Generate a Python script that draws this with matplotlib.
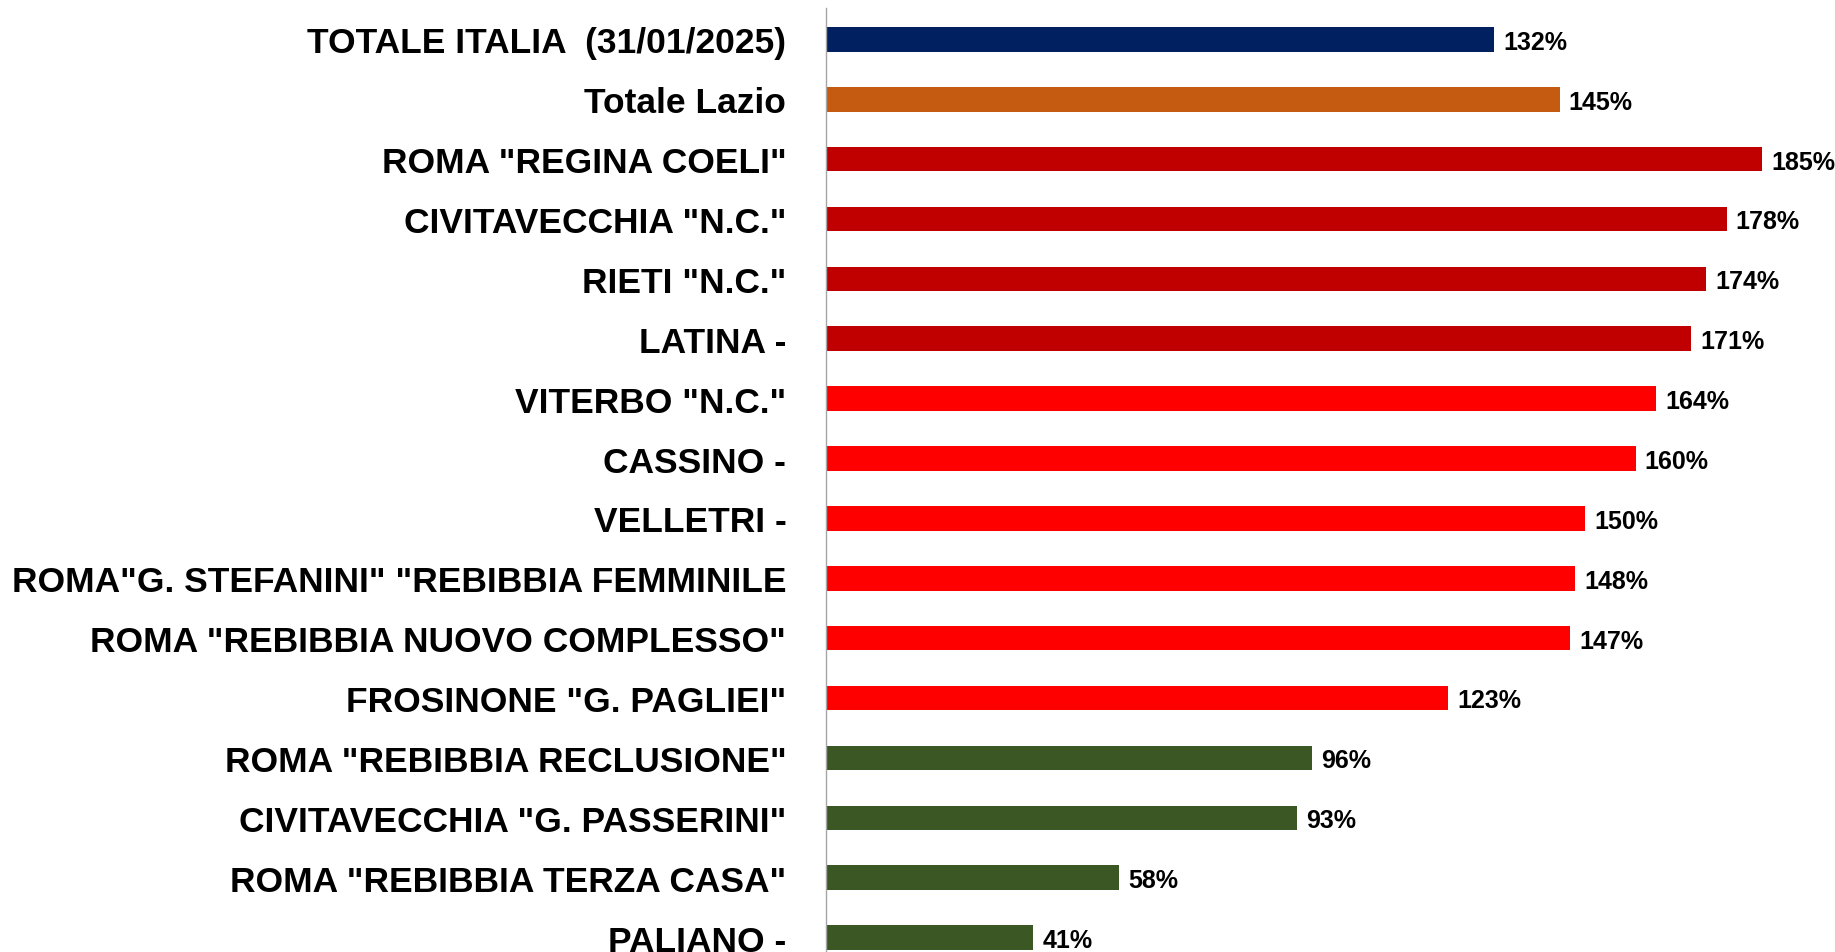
import matplotlib
matplotlib.use("Agg")
import matplotlib.pyplot as plt
from matplotlib import font_manager

names = {f.name for f in font_manager.fontManager.ttflist}

categories = [
    'TOTALE ITALIA  (31/01/2025)',
    'Totale Lazio',
    'ROMA "REGINA COELI"',
    'CIVITAVECCHIA "N.C."',
    'RIETI "N.C."',
    'LATINA -',
    'VITERBO "N.C."',
    'CASSINO -',
    'VELLETRI -',
    'ROMA"G. STEFANINI" "REBIBBIA FEMMINILE',
    'ROMA "REBIBBIA NUOVO COMPLESSO"',
    'FROSINONE "G. PAGLIEI"',
    'ROMA "REBIBBIA RECLUSIONE"',
    'CIVITAVECCHIA "G. PASSERINI"',
    'ROMA "REBIBBIA TERZA CASA"',
    'PALIANO -',
]
values = [132, 145, 185, 178, 174, 171, 164, 160, 150, 148, 147, 123, 96, 93, 58, 41]
colors = ['#002060', '#C55A11'] + ['#C00000'] * 4 + ['#FF0000'] * 6 + ['#3A5724'] * 4

label_font = 'Liberation Sans Narrow' if 'Liberation Sans Narrow' in names else 'Liberation Sans'

fig = plt.figure(figsize=(18.35, 9.53), dpi=100)
ax = fig.add_axes([0.4501, 0.0, 0.5499, 0.9906])

y = list(range(len(values)))
ax.barh(y, values, height=0.41, color=colors)
ax.set_xlim(0, 199.4)
ax.set_ylim(15.24, -0.524)

for yi, v in zip(y, values):
    ax.text(v + 1.8, yi + 0.04, f'{v}%', va='center', ha='left',
            fontsize=18, fontweight='bold', family=[label_font, 'DejaVu Sans'])

ax.set_yticks(y)
ax.set_yticklabels(categories, fontsize=25.5, fontweight='bold', family=[label_font, 'DejaVu Sans'])
ax.tick_params(axis='y', length=0, pad=28.5)
ax.set_xticks([])
for s in ['top', 'right', 'bottom']:
    ax.spines[s].set_visible(False)
ax.spines['left'].set_color('#A6A6A6')
ax.spines['left'].set_linewidth(1)

fig.savefig('out.png', dpi=100)
